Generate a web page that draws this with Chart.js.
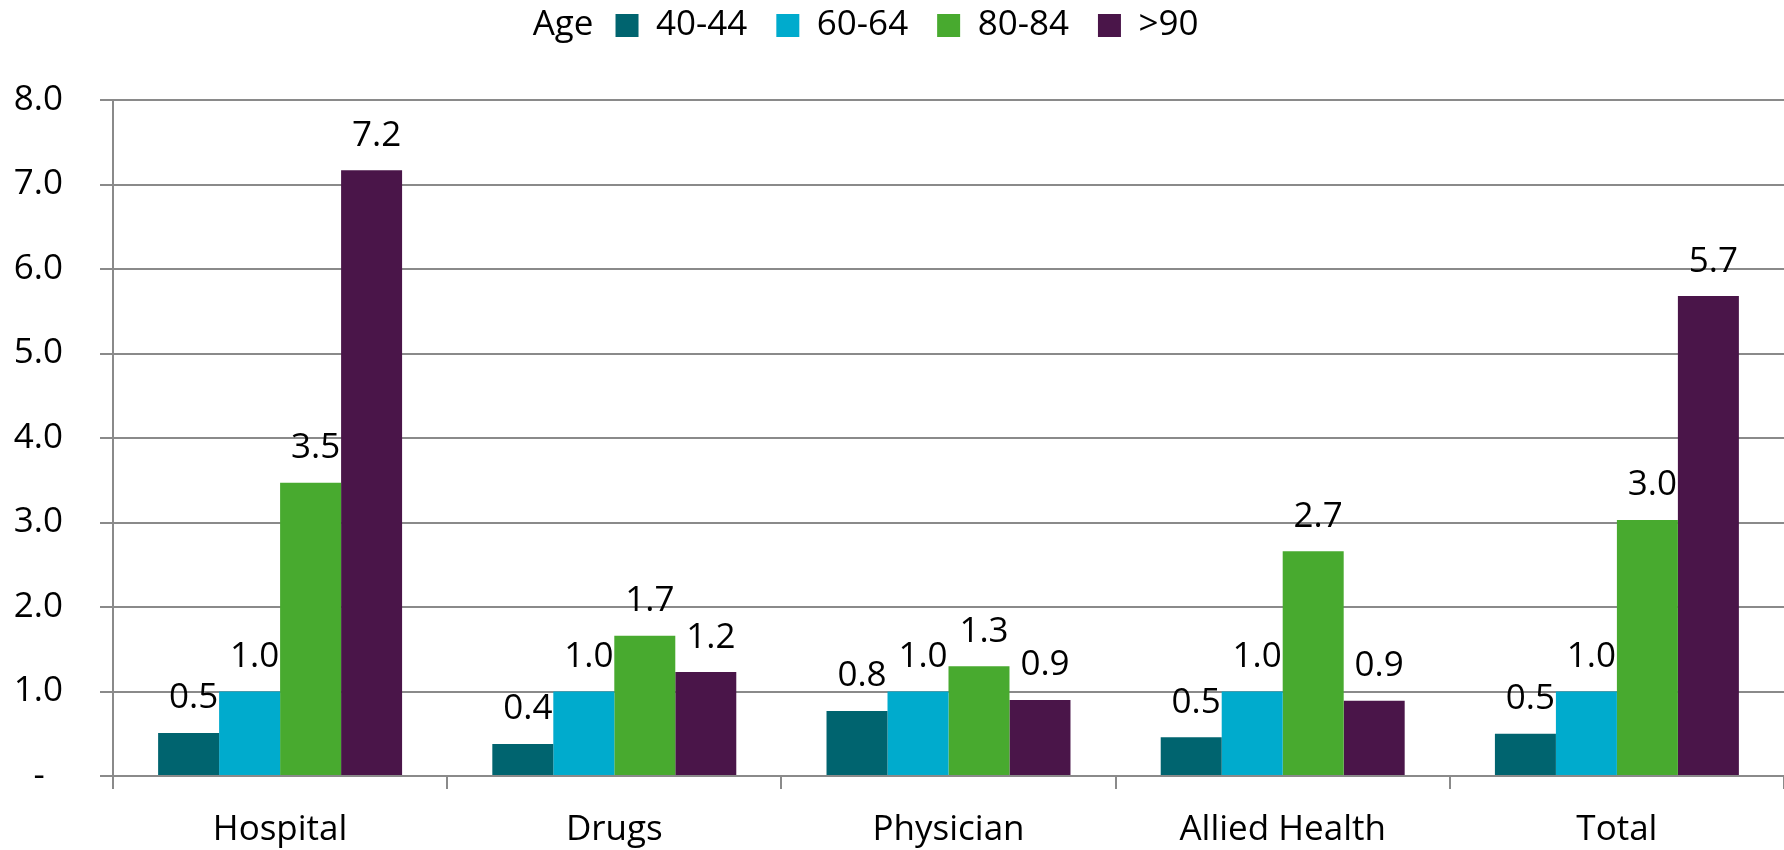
<!DOCTYPE html>
<html>
<head>
<meta charset="utf-8">
<script src="https://cdn.jsdelivr.net/npm/chart.js@4/dist/chart.umd.min.js"></script>
<style>
  html, body { margin: 0; padding: 0; background: #ffffff; }
  #wrap { width: 1784px; height: 850px; }
</style>
</head>
<body>
<div id="wrap"><canvas id="chart" width="1784" height="850"></canvas></div>
<script>
// Cost ratios by service type and age group
const categories = ['Hospital', 'Drugs', 'Physician', 'Allied Health', 'Total'];
const ageGroups = ['40-44', '60-64', '80-84', '>90'];
const age40to44 = [0.51, 0.38, 0.77, 0.46, 0.50];
const age60to64 = [1.00, 1.00, 1.00, 1.00, 1.00];
const age80to84 = [3.47, 1.66, 1.30, 2.66, 3.03];
const age90plus = [7.17, 1.23, 0.90, 0.89, 5.68];
const yTicks = [0, 1, 2, 3, 4, 5, 6, 7, 8];
const legendTitle = 'Age';

const seriesColors = ['#00646F', '#00ABCD', '#48AA2F', '#4A1549'];
const FONT = "'Open Sans', 'Noto Sans', sans-serif";
const GRID = '#8a8a8a';

// Value labels above each bar
const barValueLabels = {
  id: 'barValueLabels',
  afterDatasetsDraw(chart) {
    const ctx = chart.ctx;
    ctx.save();
    ctx.font = '35px ' + FONT;
    ctx.fillStyle = '#000000';
    ctx.textAlign = 'center';
    ctx.textBaseline = 'alphabetic';
    chart.data.datasets.forEach((ds, di) => {
      const meta = chart.getDatasetMeta(di);
      meta.data.forEach((bar, i) => {
        ctx.fillText(ds.data[i].toFixed(1), bar.x + 5, bar.y - 24.5);
      });
    });
    ctx.restore();
  }
};

// Legend heading drawn to the left of the first legend entry;
// the legend block also gets extra room below it and a small shift right
const legendHeading = {
  id: 'legendHeading',
  beforeInit(chart) {
    const legend = chart.legend;
    if (legend) {
      const fit = legend.fit;
      legend.fit = function () {
        fit.call(this);
        this.height += 47;
      };
    }
  },
  afterLayout(chart) {
    if (chart.legend) {
      chart.legend.left += 20;
    }
  },
  afterDraw(chart) {
    const legend = chart.legend;
    if (!legend || !legend.legendHitBoxes.length) return;
    const hb = legend.legendHitBoxes[0];
    const ctx = chart.ctx;
    ctx.save();
    ctx.font = '35px ' + FONT;
    ctx.fillStyle = '#000000';
    ctx.textAlign = 'right';
    ctx.textBaseline = 'middle';
    ctx.fillText(legendTitle, hb.left - 22, hb.top + hb.height / 2);
    ctx.restore();
  }
};

const datasets = [age40to44, age60to64, age80to84, age90plus].map((vals, i) => ({
  label: ageGroups[i],
  data: vals,
  backgroundColor: seriesColors[i],
  borderWidth: 0,
  barPercentage: 1.0,
  categoryPercentage: 0.73
}));

new Chart(document.getElementById('chart'), {
  type: 'bar',
  data: { labels: categories, datasets },
  plugins: [barValueLabels, legendHeading],
  options: {
    responsive: false,
    animation: false,
    events: [],
    layout: { padding: { left: 10, right: 0, top: -21, bottom: -21 } },
    plugins: {
      tooltip: { enabled: false },
      legend: {
        display: true,
        position: 'top',
        align: 'center',
        labels: {
          font: { family: FONT, size: 35 },
          color: '#000000',
          boxWidth: 23,
          boxHeight: 23,
          padding: 29
        }
      }
    },
    scales: {
      x: {
        grid: {
          display: true,
          offset: true,
          drawOnChartArea: false,
          drawTicks: true,
          tickLength: 13,
          color: GRID,
          lineWidth: 2
        },
        border: { display: true, color: GRID, width: 2 },
        ticks: {
          font: { family: FONT, size: 35 },
          color: '#000000',
          padding: 20,
          maxRotation: 0,
          autoSkip: false
        }
      },
      y: {
        min: yTicks[0],
        max: yTicks[yTicks.length - 1],
        afterBuildTicks(scale) {
          scale.ticks = yTicks.map(v => ({ value: v }));
        },
        afterFit(scale) {
          scale.width = 103;
        },
        grid: {
          display: true,
          drawOnChartArea: true,
          drawTicks: true,
          tickLength: 13,
          color: GRID,
          lineWidth: 2
        },
        border: { display: true, color: GRID, width: 2 },
        ticks: {
          font: { family: FONT, size: 35 },
          color: '#000000',
          padding: 37,
          callback: (v) => (v === 0 ? '-\u00a0\u00a0' : Number(v).toFixed(1))
        }
      }
    }
  }
});
</script>
</body>
</html>
